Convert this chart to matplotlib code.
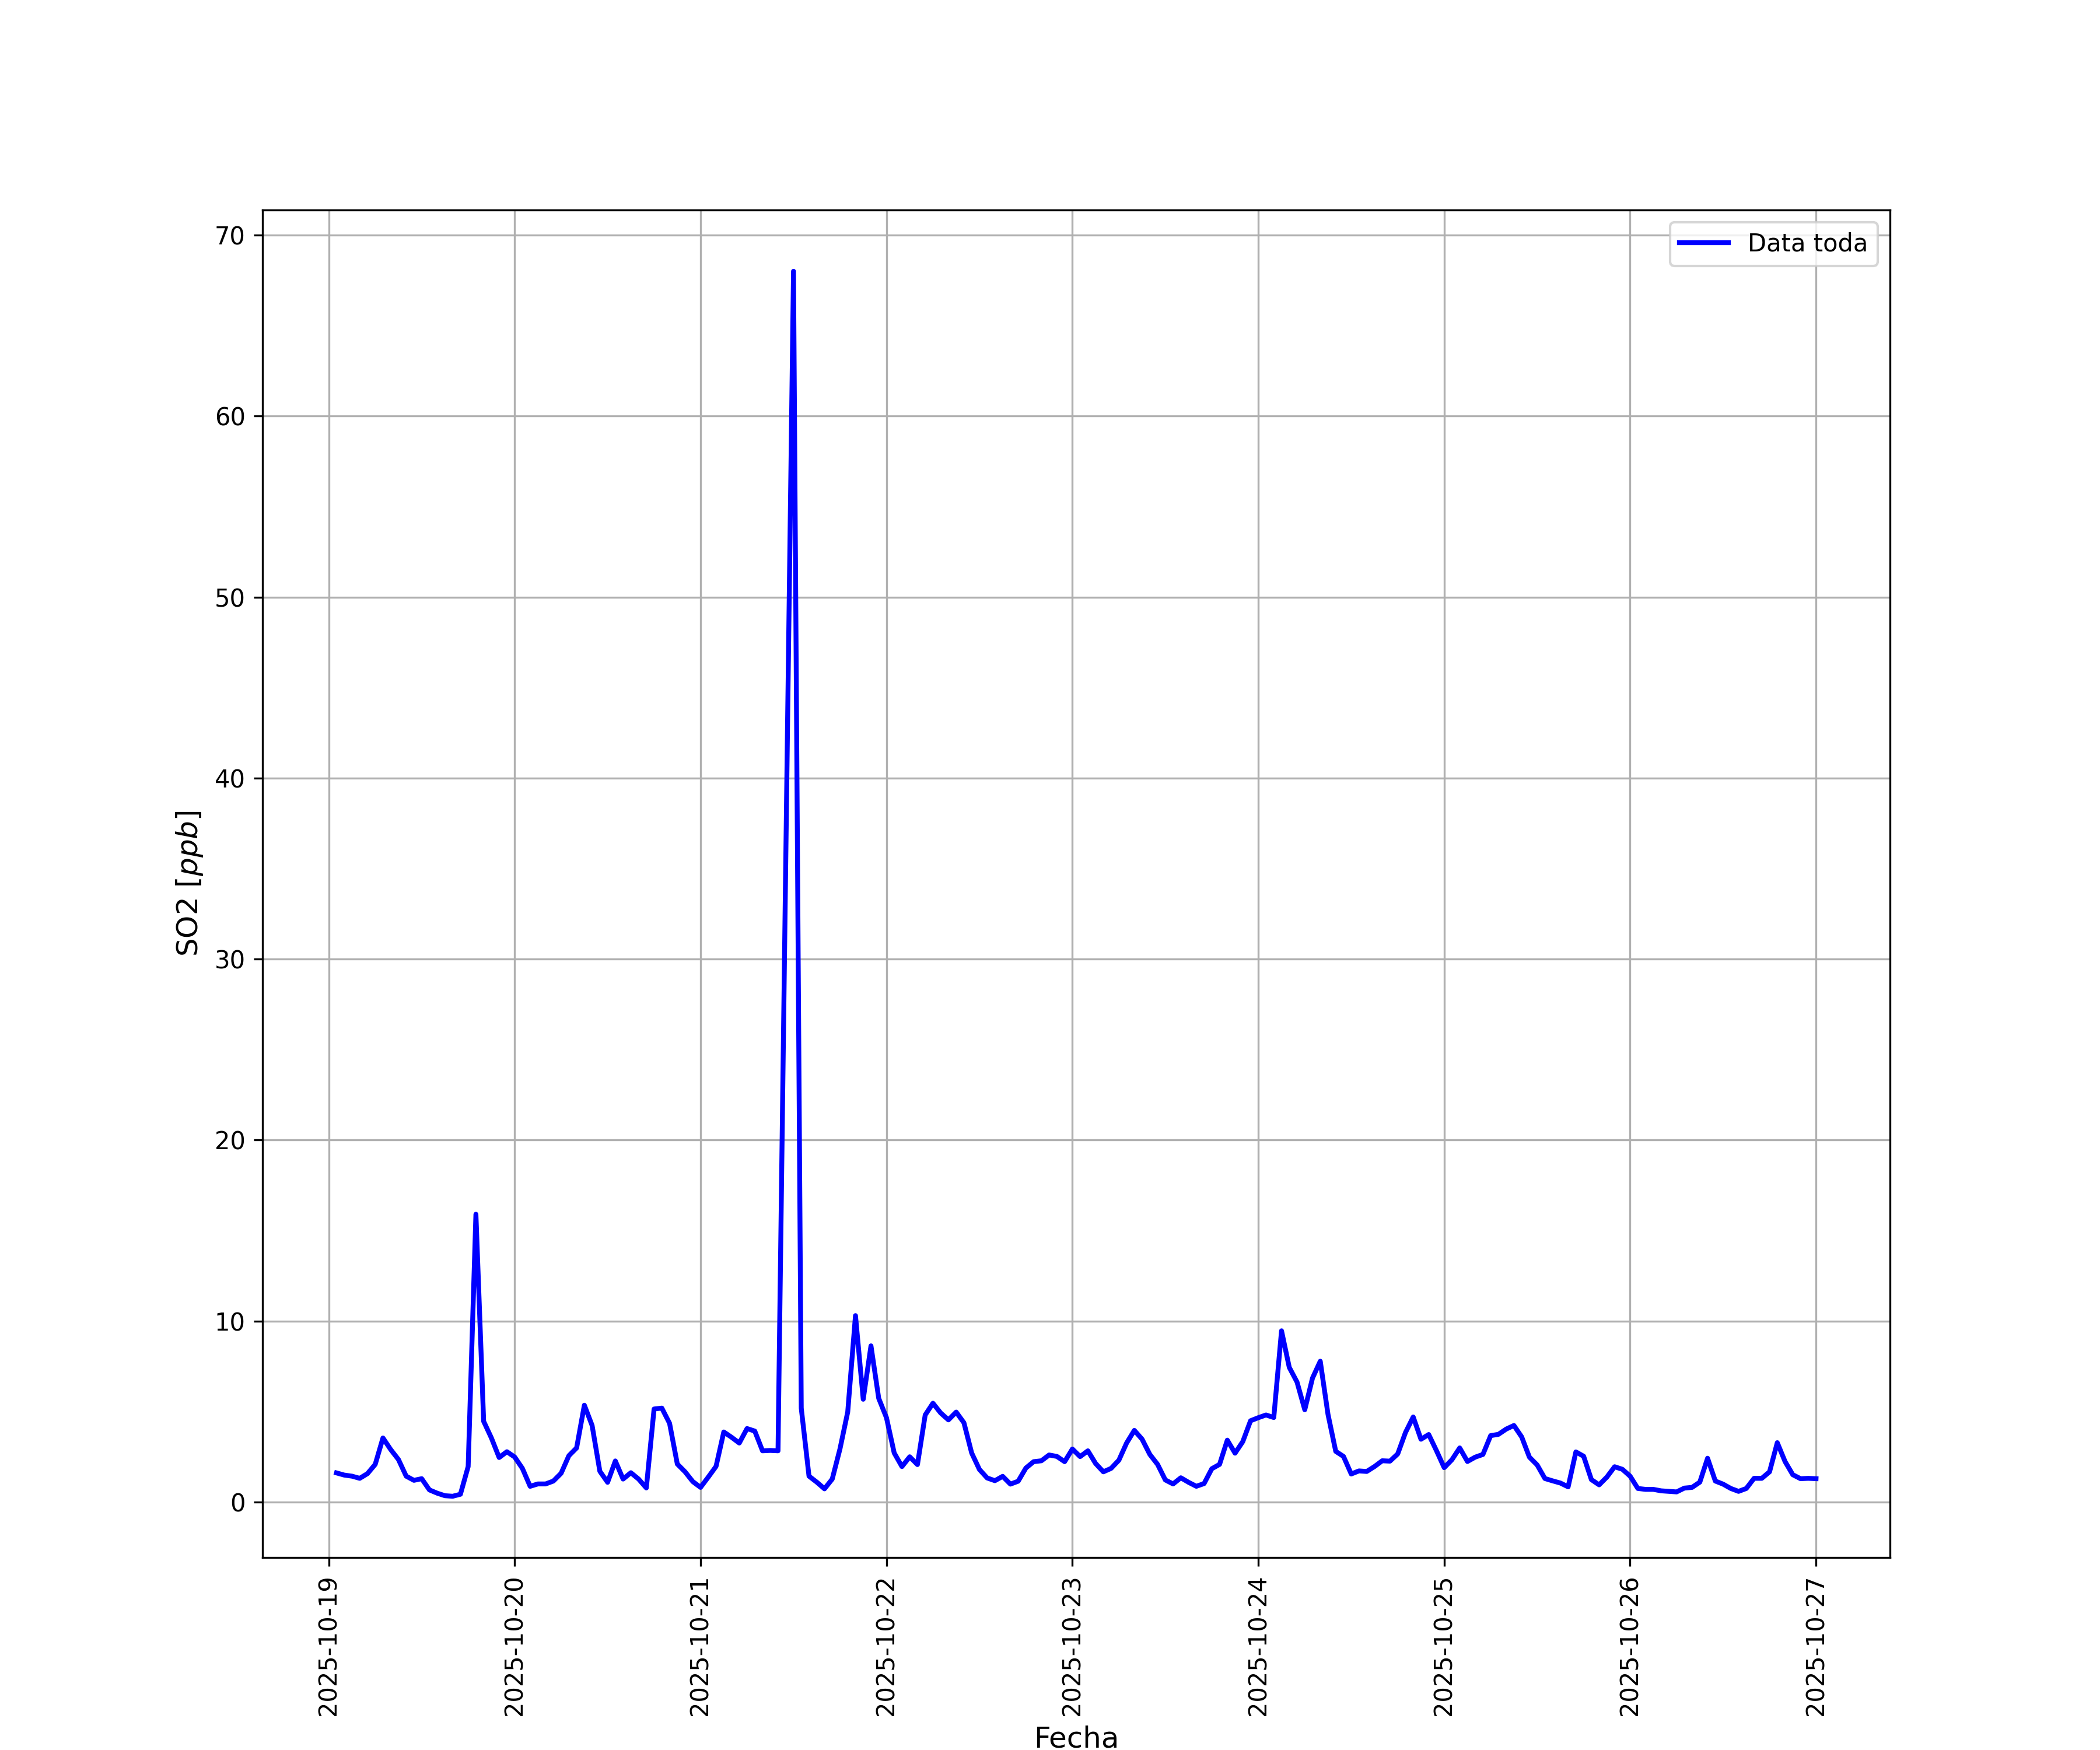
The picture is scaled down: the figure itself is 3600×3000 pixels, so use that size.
import matplotlib
matplotlib.use("Agg")
import matplotlib.pyplot as plt
import matplotlib.dates as mdates
import pandas as pd
import numpy as np

# Hourly SO2 values, 2025-10-19 01:00 .. 2025-10-27 00:00 (24 values per block)
day_19 = [1.61, 1.49, 1.43, 1.31, 1.57, 2.08, 3.54, 2.90, 2.35, 1.43, 1.20, 1.29,
          0.67, 0.49, 0.35, 0.32, 0.43, 1.96, 15.9, 4.46, 3.54, 2.46, 2.78, 2.49]
day_20 = [1.86, 0.87, 1.00, 1.00, 1.16, 1.59, 2.56, 2.99, 5.35, 4.23, 1.70, 1.09,
          2.27, 1.27, 1.62, 1.27, 0.78, 5.14, 5.19, 4.35, 2.10, 1.67, 1.13, 0.81]
day_21 = [1.38, 1.97, 3.87, 3.58, 3.26, 4.06, 3.92, 2.83, 2.85, 2.83, 35.4, 68.0,
          5.19, 1.43, 1.10, 0.73, 1.27, 2.94, 4.98, 10.3, 5.68, 8.63, 5.73, 4.66]
day_22 = [2.71, 1.96, 2.50, 2.07, 4.81, 5.46, 4.92, 4.54, 4.97, 4.38, 2.71, 1.80,
          1.33, 1.18, 1.42, 0.99, 1.15, 1.88, 2.23, 2.28, 2.60, 2.52, 2.23, 2.93]
day_23 = [2.51, 2.83, 2.13, 1.67, 1.86, 2.31, 3.26, 3.96, 3.47, 2.63, 2.08, 1.22,
          1.00, 1.34, 1.09, 0.87, 1.02, 1.84, 2.08, 3.42, 2.70, 3.34, 4.49, 4.66]
day_24 = [4.81, 4.67, 9.46, 7.44, 6.63, 5.10, 6.85, 7.78, 4.84, 2.80, 2.52, 1.55,
          1.72, 1.69, 1.96, 2.28, 2.26, 2.66, 3.84, 4.70, 3.47, 3.73, 2.84, 1.90]
day_25 = [2.34, 2.99, 2.24, 2.48, 2.63, 3.67, 3.74, 4.03, 4.23, 3.60, 2.48, 2.05,
          1.30, 1.17, 1.05, 0.84, 2.77, 2.53, 1.24, 0.95, 1.38, 1.95, 1.81, 1.43]
day_26 = [0.75, 0.70, 0.70, 0.62, 0.59, 0.56, 0.77, 0.81, 1.10, 2.42, 1.16, 0.99,
          0.75, 0.59, 0.75, 1.31, 1.31, 1.67, 3.28, 2.24, 1.51, 1.29, 1.31, 1.29]

so2 = day_19 + day_20 + day_21 + day_22 + day_23 + day_24 + day_25 + day_26
fechas = pd.date_range("2025-10-19 01:00", periods=len(so2), freq="h")

fig, ax = plt.subplots(figsize=(12, 10), dpi=300)
ax.plot(fechas, so2, color="blue", linewidth=2, label="Data toda")
ax.grid(True)
ax.set_xlabel("Fecha", fontsize=12)
ax.set_ylabel("SO2 [$ppb$]", fontsize=12)
ax.xaxis.set_major_locator(mdates.DayLocator())
ax.xaxis.set_major_formatter(mdates.DateFormatter("%Y-%m-%d"))
plt.setp(ax.get_xticklabels(), rotation=90)
ax.legend(loc="upper right")
fig.savefig("out.png", dpi=300)
